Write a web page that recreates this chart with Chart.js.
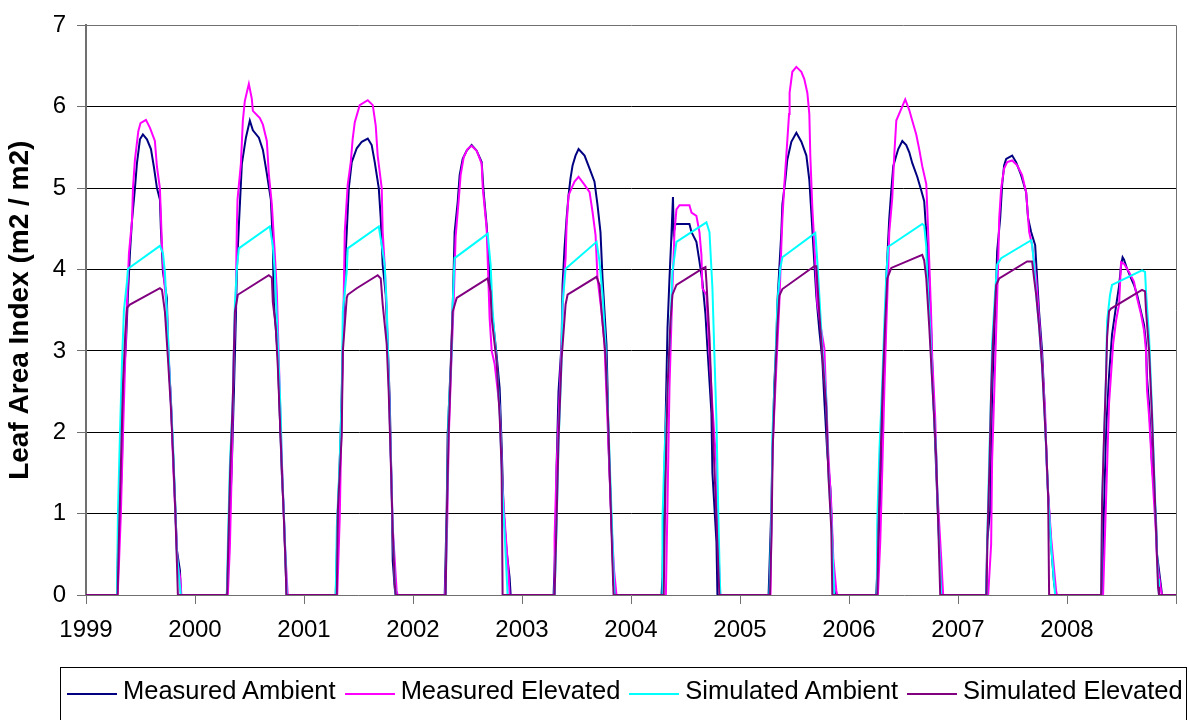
<!DOCTYPE html>
<html>
<head>
<meta charset="utf-8">
<title>Leaf Area Index</title>
<script src="https://cdn.jsdelivr.net/npm/chart.js@4/dist/chart.umd.min.js"></script>
<style>
  body { margin: 0; background: #fff; overflow: hidden; }
  #wrap { position: relative; width: 1189px; height: 720px; }
  #chart { position: absolute; left: 0; top: 0; }
  .legend {
    position: absolute; left: 60px; top: 667px; width: 1127px; height: 80px;
    box-sizing: border-box; border: 1px solid #000; padding: 8px 0 0 6px;
    display: flex; white-space: nowrap; overflow: hidden;
    font: 25.5px "Liberation Sans", Arial, sans-serif; line-height: 29px; color: #000;
  }
  .legend .item { display: flex; margin-right: 9px; }
  .legend .item i { display: block; width: 50px; height: 2px; margin: 17px 6px 0 0; }
</style>
</head>
<body>
<div id="wrap">
  <canvas id="chart" width="1189" height="720"></canvas>
  <div class="legend" id="legend"></div>
</div>
<script>
// x = decimal year, y = leaf area index (m2 / m2)
const yearTicks = [1999, 2000, 2001, 2002, 2003, 2004, 2005, 2006, 2007, 2008, 2009];
const laiTicks = [0, 1, 2, 3, 4, 5, 6, 7];
const seriesNames = ['Measured Ambient', 'Measured Elevated', 'Simulated Ambient', 'Simulated Elevated'];
const seriesColors = ['#000080', '#ff00ff', '#00ffff', '#800080'];

const measuredAmbient = [
  [1999, 0],
  [1999.284,0],[1999.293,0.5],[1999.330,1.6],[1999.339,2.5],[1999.367,3.1],[1999.385,3.7],[1999.403,4.2],[1999.422,4.6],[1999.449,5.0],[1999.467,5.3],[1999.495,5.6],[1999.522,5.66],[1999.559,5.6],[1999.596,5.48],[1999.623,5.26],[1999.651,5.0],[1999.678,4.86],[1999.687,4.5],[1999.706,3.97],[1999.742,3.65],[1999.752,3.05],[1999.779,2.4],[1999.797,1.8],[1999.816,1.2],[1999.834,0.55],[1999.862,0.3],[1999.871,0],
  [2000.292,0],[2000.338,1.6],[2000.357,2.5],[2000.375,3.4],[2000.384,4.0],[2000.402,4.53],[2000.430,5.3],[2000.467,5.62],[2000.503,5.83],[2000.531,5.71],[2000.586,5.62],[2000.623,5.47],[2000.659,5.18],[2000.696,4.86],[2000.714,4.33],[2000.723,3.6],[2000.760,2.93],[2000.778,2.2],[2000.797,1.48],[2000.815,1.0],[2000.833,0.27],[2000.842,0],
  [2001.291,0],[2001.310,0.95],[2001.337,2.01],[2001.356,2.99],[2001.374,3.97],[2001.392,4.46],[2001.411,5.0],[2001.438,5.32],[2001.484,5.49],[2001.530,5.57],[2001.585,5.61],[2001.621,5.53],[2001.649,5.32],[2001.686,5.0],[2001.704,4.63],[2001.722,4.06],[2001.750,3.69],[2001.768,3.08],[2001.786,2.42],[2001.805,1.24],[2001.814,0.42],[2001.832,0.09],[2001.841,0],
  [2002.291,0],[2002.309,1.03],[2002.318,1.97],[2002.346,2.83],[2002.364,3.52],[2002.382,4.46],[2002.410,4.83],[2002.428,5.16],[2002.456,5.36],[2002.492,5.46],[2002.538,5.53],[2002.584,5.46],[2002.630,5.32],[2002.648,4.95],[2002.676,4.54],[2002.703,3.89],[2002.731,3.4],[2002.767,2.95],[2002.795,2.54],[2002.813,1.85],[2002.831,1.03],[2002.859,0.54],[2002.886,0.22],[2002.896,0],
  [2003.290,0],[2003.308,0.71],[2003.317,1.56],[2003.335,2.5],[2003.363,3.08],[2003.372,3.81],[2003.390,4.26],[2003.409,4.63],[2003.427,4.91],[2003.445,5.12],[2003.464,5.28],[2003.491,5.4],[2003.519,5.48],[2003.574,5.4],[2003.620,5.24],[2003.665,5.08],[2003.693,4.79],[2003.720,4.46],[2003.739,3.89],[2003.757,3.48],[2003.775,3.08],[2003.785,2.54],[2003.794,1.85],[2003.812,1.2],[2003.830,0.54],[2003.840,0.13],[2003.858,0],
  [2004.280,0],[2004.289,0.22],[2004.298,0.95],[2004.316,2.05],[2004.335,3.28],[2004.353,3.89],[2004.371,4.42],[2004.385,4.89],[2004.392,4.46],[2004.408,4.56],[2004.536,4.56],[2004.555,4.46],[2004.600,4.34],[2004.628,4.1],[2004.655,3.85],[2004.683,3.45],[2004.701,3.04],[2004.738,2.23],[2004.747,1.5],[2004.784,0.65],[2004.793,0],
  [2005.262,0],[2005.269,0.28],[2005.288,1.09],[2005.297,1.74],[2005.315,2.6],[2005.334,3.12],[2005.343,3.59],[2005.361,4.02],[2005.379,4.45],[2005.389,4.8],[2005.416,5.1],[2005.434,5.35],[2005.471,5.57],[2005.517,5.68],[2005.563,5.57],[2005.609,5.4],[2005.636,5.1],[2005.654,4.71],[2005.673,4.28],[2005.700,3.68],[2005.728,3.25],[2005.755,2.9],[2005.774,2.39],[2005.801,1.74],[2005.829,1.31],[2005.847,0.66],[2005.856,0.15],[2005.874,0],
  [2006.250,0],[2006.269,0.58],[2006.296,1.52],[2006.314,2.39],[2006.333,3.16],[2006.342,3.89],[2006.369,4.62],[2006.388,4.97],[2006.406,5.27],[2006.434,5.4],[2006.452,5.48],[2006.489,5.58],[2006.525,5.53],[2006.553,5.44],[2006.580,5.31],[2006.626,5.14],[2006.663,4.97],[2006.690,4.84],[2006.709,4.45],[2006.736,3.89],[2006.754,3.25],[2006.764,2.82],[2006.782,2.17],[2006.800,1.52],[2006.819,0.88],[2006.846,0.23],[2006.855,0],
  [2007.258,0],[2007.268,0.67],[2007.295,1.03],[2007.304,1.77],[2007.313,2.46],[2007.332,3.16],[2007.350,3.81],[2007.359,4.22],[2007.387,4.63],[2007.405,5.04],[2007.423,5.28],[2007.442,5.36],[2007.497,5.4],[2007.533,5.32],[2007.579,5.16],[2007.625,4.95],[2007.643,4.63],[2007.671,4.46],[2007.708,4.3],[2007.726,3.89],[2007.744,3.48],[2007.772,2.99],[2007.790,2.46],[2007.808,1.85],[2007.827,1.24],[2007.854,0.62],[2007.882,0.13],[2007.900,0],
  [2008.322,0],[2008.340,1.1],[2008.358,2.0],[2008.386,2.7],[2008.413,3.2],[2008.450,3.55],[2008.478,3.8],[2008.496,4.05],[2008.510,4.15],[2008.523,4.12],[2008.551,4.01],[2008.588,3.89],[2008.615,3.81],[2008.643,3.69],[2008.679,3.48],[2008.707,3.32],[2008.725,3.08],[2008.734,2.67],[2008.753,2.34],[2008.780,1.6],[2008.798,1.3],[2008.817,0.9],[2008.826,0.5],[2008.863,0.1],[2008.872,0],
  [2009, 0]
];

const measuredElevated = [
  [1999, 0],
  [1999.290,0],[1999.300,0.3],[1999.320,1.0],[1999.340,2.0],[1999.360,2.9],[1999.376,3.6],[1999.394,4.2],[1999.422,4.6],[1999.431,5.0],[1999.449,5.35],[1999.480,5.7],[1999.500,5.8],[1999.550,5.84],[1999.587,5.74],[1999.632,5.58],[1999.651,5.26],[1999.678,5.0],[1999.697,4.3],[1999.715,3.9],[1999.742,3.5],[1999.760,2.9],[1999.785,2.2],[1999.800,1.6],[1999.820,1.0],[1999.840,0.4],[1999.865,0.2],[1999.875,0],
  [2000.301,0],[2000.320,0.58],[2000.338,1.6],[2000.347,2.4],[2000.357,3.0],[2000.375,3.72],[2000.384,4.53],[2000.390,4.86],[2000.421,5.3],[2000.439,5.83],[2000.457,6.07],[2000.485,6.23],[2000.494,6.28],[2000.521,6.1],[2000.531,5.95],[2000.595,5.86],[2000.623,5.78],[2000.659,5.58],[2000.677,5.18],[2000.705,4.8],[2000.732,4.2],[2000.751,3.72],[2000.769,2.9],[2000.788,2.0],[2000.806,1.3],[2000.824,0.66],[2000.842,0.2],[2000.851,0],
  [2001.305,0],[2001.328,0.95],[2001.356,2.99],[2001.374,4.46],[2001.401,5.04],[2001.429,5.32],[2001.447,5.61],[2001.466,5.81],[2001.511,6.02],[2001.585,6.08],[2001.631,6.02],[2001.658,5.77],[2001.676,5.4],[2001.713,5.0],[2001.722,4.46],[2001.740,4.06],[2001.759,3.48],[2001.777,2.67],[2001.795,1.77],[2001.814,0.83],[2001.850,0.05],[2001.859,0],
  [2002.295,0],[2002.314,0.9],[2002.327,1.9],[2002.350,2.8],[2002.373,3.6],[2002.391,4.4],[2002.419,4.85],[2002.437,5.16],[2002.465,5.38],[2002.500,5.48],[2002.538,5.52],[2002.584,5.46],[2002.630,5.3],[2002.640,5.0],[2002.676,4.5],[2002.703,3.4],[2002.722,3.0],[2002.749,2.84],[2002.795,2.3],[2002.822,1.3],[2002.850,0.75],[2002.877,0.25],[2002.886,0],
  [2003.295,0],[2003.299,0.71],[2003.317,1.56],[2003.345,2.46],[2003.363,3.08],[2003.381,3.81],[2003.400,4.14],[2003.409,4.54],[2003.427,4.91],[2003.455,5.0],[2003.482,5.08],[2003.519,5.14],[2003.574,5.04],[2003.620,4.95],[2003.647,4.71],[2003.675,4.42],[2003.693,3.89],[2003.730,3.48],[2003.757,3.08],[2003.775,2.46],[2003.800,1.6],[2003.820,0.9],[2003.845,0.3],[2003.867,0],
  [2004.320,0],[2004.335,1.14],[2004.353,2.55],[2004.371,3.36],[2004.380,3.77],[2004.399,4.46],[2004.417,4.74],[2004.445,4.79],[2004.536,4.79],[2004.555,4.7],[2004.600,4.66],[2004.628,4.46],[2004.646,4.18],[2004.655,3.77],[2004.692,3.69],[2004.720,2.96],[2004.747,2.31],[2004.784,1.58],[2004.793,0.93],[2004.815,0.1],[2004.820,0],
  [2005.280,0],[2005.297,1.74],[2005.334,2.82],[2005.361,3.59],[2005.379,4.28],[2005.389,4.62],[2005.407,5.05],[2005.425,5.4],[2005.450,5.91],[2005.455,6.17],[2005.480,6.43],[2005.517,6.49],[2005.563,6.43],[2005.590,6.34],[2005.618,6.17],[2005.636,5.91],[2005.645,5.4],[2005.664,4.75],[2005.682,4.32],[2005.709,3.59],[2005.746,3.25],[2005.774,3.03],[2005.792,2.39],[2005.810,1.74],[2005.838,1.09],[2005.856,0.45],[2005.884,0.05],[2005.893,0],
  [2006.265,0],[2006.287,0.66],[2006.305,1.52],[2006.324,2.5],[2006.342,3.3],[2006.360,4.0],[2006.369,4.45],[2006.397,4.88],[2006.415,5.4],[2006.434,5.83],[2006.516,6.09],[2006.553,5.96],[2006.580,5.83],[2006.617,5.66],[2006.644,5.48],[2006.672,5.27],[2006.709,5.05],[2006.718,4.75],[2006.736,4.11],[2006.754,3.42],[2006.764,2.9],[2006.791,2.17],[2006.809,1.31],[2006.846,0.45],[2006.864,0],
  [2007.277,0],[2007.304,0.62],[2007.313,1.65],[2007.332,2.46],[2007.350,3.24],[2007.368,4.05],[2007.378,4.63],[2007.396,5.0],[2007.423,5.24],[2007.451,5.32],[2007.497,5.34],[2007.543,5.28],[2007.588,5.16],[2007.625,4.95],[2007.653,4.46],[2007.680,4.3],[2007.717,3.89],[2007.744,3.4],[2007.772,2.87],[2007.799,2.26],[2007.818,1.44],[2007.854,0.71],[2007.900,0.05],[2007.909,0],
  [2008.331,0],[2008.358,1.15],[2008.386,2.36],[2008.423,3.08],[2008.450,3.37],[2008.478,3.57],[2008.496,4.09],[2008.523,4.07],[2008.569,3.97],[2008.615,3.85],[2008.643,3.65],[2008.679,3.45],[2008.707,3.25],[2008.725,3.0],[2008.734,2.52],[2008.753,2.2],[2008.780,1.55],[2008.798,1.15],[2008.817,0.75],[2008.826,0.42],[2008.863,0.05],[2008.872,0],
  [2009, 0]
];

const simulatedAmbient = [
  [1999, 0],
  [1999.284,0],[1999.293,1.0],[1999.312,2.0],[1999.330,2.85],[1999.348,3.5],[1999.376,3.85],[1999.385,4.01],[1999.678,4.29],[1999.706,4.2],[1999.724,3.97],[1999.752,3.2],[1999.770,2.6],[1999.797,1.9],[1999.816,1.2],[1999.834,0.5],[1999.855,0.2],[1999.870,0],
  [2000.292,0],[2000.301,0.58],[2000.320,1.6],[2000.347,2.4],[2000.357,3.05],[2000.366,3.57],[2000.384,4.01],[2000.402,4.26],[2000.686,4.53],[2000.714,4.29],[2000.732,3.97],[2000.751,3.4],[2000.769,2.8],[2000.787,2.2],[2000.797,1.6],[2000.815,1.0],[2000.833,0.38],[2000.842,0],
  [2001.291,0],[2001.301,0.83],[2001.328,1.65],[2001.346,2.46],[2001.356,3.48],[2001.392,3.97],[2001.401,4.26],[2001.686,4.53],[2001.713,4.3],[2001.740,4.06],[2001.759,3.57],[2001.777,2.67],[2001.795,1.77],[2001.814,0.83],[2001.832,0.2],[2001.841,0],
  [2002.300,0],[2002.309,0.83],[2002.327,2.26],[2002.355,2.99],[2002.364,3.57],[2002.382,4.14],[2002.685,4.44],[2002.712,4.06],[2002.731,3.48],[2002.767,2.87],[2002.795,2.26],[2002.822,1.24],[2002.850,0.5],[2002.868,0],
  [2003.299,0],[2003.317,0.83],[2003.335,1.85],[2003.363,2.87],[2003.372,3.57],[2003.400,4.01],[2003.684,4.34],[2003.711,4.1],[2003.739,3.69],[2003.766,3.08],[2003.794,2.05],[2003.821,1.03],[2003.840,0.3],[2003.849,0],
  [2004.285,0],[2004.289,0.93],[2004.307,1.74],[2004.335,2.55],[2004.362,3.36],[2004.380,3.97],[2004.417,4.34],[2004.692,4.58],[2004.720,4.46],[2004.747,3.77],[2004.765,2.96],[2004.784,2.15],[2004.802,0.93],[2004.815,0.2],[2004.820,0],
  [2005.270,0],[2005.288,0.88],[2005.297,1.96],[2005.324,2.82],[2005.343,3.59],[2005.370,4.02],[2005.389,4.15],[2005.691,4.45],[2005.709,4.11],[2005.728,3.68],[2005.755,3.03],[2005.792,2.39],[2005.810,1.52],[2005.838,0.88],[2005.856,0.32],[2005.865,0],
  [2006.255,0],[2006.259,0.88],[2006.278,1.74],[2006.305,2.6],[2006.324,3.33],[2006.342,3.93],[2006.360,4.28],[2006.672,4.56],[2006.690,4.54],[2006.709,4.28],[2006.718,3.89],[2006.745,3.25],[2006.764,2.6],[2006.800,1.74],[2006.819,0.88],[2006.846,0],
  [2007.262,0],[2007.268,0.67],[2007.286,1.65],[2007.304,2.5],[2007.313,3.08],[2007.341,3.73],[2007.359,4.06],[2007.396,4.14],[2007.671,4.36],[2007.680,4.3],[2007.698,4.06],[2007.717,3.69],[2007.744,3.3],[2007.772,2.8],[2007.799,2.1],[2007.827,1.2],[2007.854,0.6],[2007.891,0],
  [2008.313,0],[2008.322,1.15],[2008.358,2.68],[2008.368,3.37],[2008.395,3.69],[2008.413,3.81],[2008.688,3.99],[2008.716,3.97],[2008.725,3.73],[2008.753,3.17],[2008.780,2.28],[2008.817,0.83],[2008.835,0.2],[2008.844,0],
  [2009, 0]
];

const simulatedElevated = [
  [1999, 0],
  [1999.290,0],[1999.300,0.6],[1999.320,1.6],[1999.340,2.6],[1999.360,3.2],[1999.376,3.53],[1999.403,3.57],[1999.678,3.77],[1999.697,3.75],[1999.724,3.48],[1999.752,2.9],[1999.779,2.3],[1999.800,1.7],[1999.820,1.0],[1999.834,0.4],[1999.843,0],
  [2000.295,0],[2000.305,0.6],[2000.322,1.5],[2000.347,2.4],[2000.357,3.0],[2000.366,3.48],[2000.393,3.69],[2000.677,3.93],[2000.705,3.9],[2000.714,3.6],[2000.741,3.3],[2000.760,2.8],[2000.778,2.2],[2000.797,1.55],[2000.815,0.95],[2000.833,0.3],[2000.838,0],
  [2001.301,0],[2001.310,1.03],[2001.346,1.97],[2001.356,2.99],[2001.392,3.65],[2001.401,3.69],[2001.484,3.77],[2001.676,3.93],[2001.704,3.89],[2001.722,3.57],[2001.759,3.08],[2001.777,2.5],[2001.795,1.7],[2001.814,0.8],[2001.832,0.15],[2001.841,0],
  [2002.300,0],[2002.309,0.9],[2002.327,2.0],[2002.350,2.9],[2002.364,3.48],[2002.401,3.65],[2002.685,3.89],[2002.712,3.73],[2002.722,3.4],[2002.767,2.87],[2002.795,2.2],[2002.813,1.56],[2002.822,0],
  [2003.299,0],[2003.317,0.9],[2003.335,1.9],[2003.363,2.9],[2003.400,3.57],[2003.418,3.69],[2003.684,3.91],[2003.711,3.81],[2003.730,3.48],[2003.766,2.95],[2003.794,2.0],[2003.812,1.2],[2003.830,0.4],[2003.840,0],
  [2004.300,0],[2004.316,1.35],[2004.335,2.55],[2004.362,3.36],[2004.380,3.69],[2004.417,3.81],[2004.655,4.01],[2004.683,4.03],[2004.692,3.85],[2004.720,3.17],[2004.747,2.15],[2004.784,0.94],[2004.805,0.2],[2004.811,0],
  [2005.275,0],[2005.290,0.8],[2005.300,1.8],[2005.324,2.7],[2005.343,3.3],[2005.361,3.68],[2005.389,3.76],[2005.682,4.04],[2005.700,4.04],[2005.709,3.85],[2005.728,3.46],[2005.755,2.95],[2005.792,2.3],[2005.810,1.5],[2005.838,0.8],[2005.847,0],
  [2006.260,0],[2006.270,0.8],[2006.290,1.7],[2006.310,2.6],[2006.330,3.3],[2006.351,3.89],[2006.388,4.02],[2006.672,4.18],[2006.690,4.11],[2006.709,3.89],[2006.736,3.3],[2006.764,2.6],[2006.800,1.7],[2006.819,0.85],[2006.837,0],
  [2007.262,0],[2007.270,0.7],[2007.290,1.65],[2007.304,2.5],[2007.320,3.1],[2007.350,3.81],[2007.378,3.89],[2007.634,4.1],[2007.680,4.1],[2007.698,3.89],[2007.717,3.69],[2007.744,3.3],[2007.772,2.8],[2007.808,1.85],[2007.827,1.2],[2007.836,0],
  [2008.313,0],[2008.322,1.15],[2008.340,1.96],[2008.358,2.68],[2008.368,3.17],[2008.386,3.49],[2008.404,3.52],[2008.688,3.75],[2008.716,3.73],[2008.725,3.49],[2008.753,3.0],[2008.780,2.2],[2008.798,1.5],[2008.817,0.8],[2008.835,0.1],[2008.844,0],
  [2009, 0]
];

const seriesData = [measuredAmbient, measuredElevated, simulatedAmbient, simulatedElevated];

const axisGrey = '#707070';
const font = 'Liberation Sans, Arial, sans-serif';

const datasets = seriesNames.map((name, i) => ({
  label: name,
  data: seriesData[i],
  borderColor: seriesColors[i],
  backgroundColor: seriesColors[i],
  borderWidth: 2,
  pointRadius: 0,
  tension: 0,
  fill: false,
  // later series sit on top, simulated elevated last
  order: seriesNames.length - 1 - i,
}));

const ctx = document.getElementById('chart').getContext('2d');
const chart = new Chart(ctx, {
  type: 'line',
  data: { datasets },
  options: {
    responsive: false,
    animation: false,
    events: [],
    layout: { padding: { left: 0, right: 13, top: 16, bottom: 75 } },
    plugins: { legend: { display: false }, tooltip: { enabled: false } },
    scales: {
      x: {
        type: 'linear',
        min: yearTicks[0],
        max: yearTicks[yearTicks.length - 1],
        afterFit: (scale) => { scale.height = 50; },
        afterBuildTicks: (scale) => { scale.ticks = yearTicks.map(v => ({ value: v })); },
        border: { display: true, color: axisGrey, width: 1 },
        grid: {
          drawOnChartArea: true,
          drawTicks: true,
          tickLength: 9,
          tickColor: axisGrey,
          // only the right-hand frame line is drawn inside the plot
          color: (c) => c.tick && c.tick.value === 2009 ? axisGrey : 'rgba(0,0,0,0)',
        },
        ticks: {
          autoSkip: false,
          maxRotation: 0,
          padding: 12,
          color: '#000',
          font: { family: font, size: 24 },
          callback: (v) => v === 2009 ? '' : String(v),
        },
      },
      y: {
        min: laiTicks[0],
        max: laiTicks[laiTicks.length - 1],
        afterFit: (scale) => { scale.width = 86; },
        afterBuildTicks: (scale) => { scale.ticks = laiTicks.map(v => ({ value: v })); },
        border: { display: true, color: axisGrey, width: 2 },
        grid: {
          drawTicks: true,
          tickLength: 9,
          tickColor: axisGrey,
          lineWidth: 1,
          color: (c) => {
            if (!c.tick) return '#000';
            if (c.tick.value === 0) return 'rgba(0,0,0,0)';
            if (c.tick.value === 7) return axisGrey;
            return '#000';
          },
        },
        ticks: {
          padding: 11,
          color: '#000',
          font: { family: font, size: 24 },
        },
        title: {
          display: true,
          text: 'Leaf Area Index (m2 / m2)',
          color: '#000',
          font: { family: font, size: 28, weight: 'bold' },
          padding: { top: 3, bottom: 0 },
        },
      },
    },
  },
});

// legend box under the plot
const legend = document.getElementById('legend');
seriesNames.forEach((name, i) => {
  const item = document.createElement('span');
  item.className = 'item';
  const swatch = document.createElement('i');
  swatch.style.background = seriesColors[i];
  item.appendChild(swatch);
  item.appendChild(document.createTextNode(name));
  legend.appendChild(item);
});
</script>
</body>
</html>
